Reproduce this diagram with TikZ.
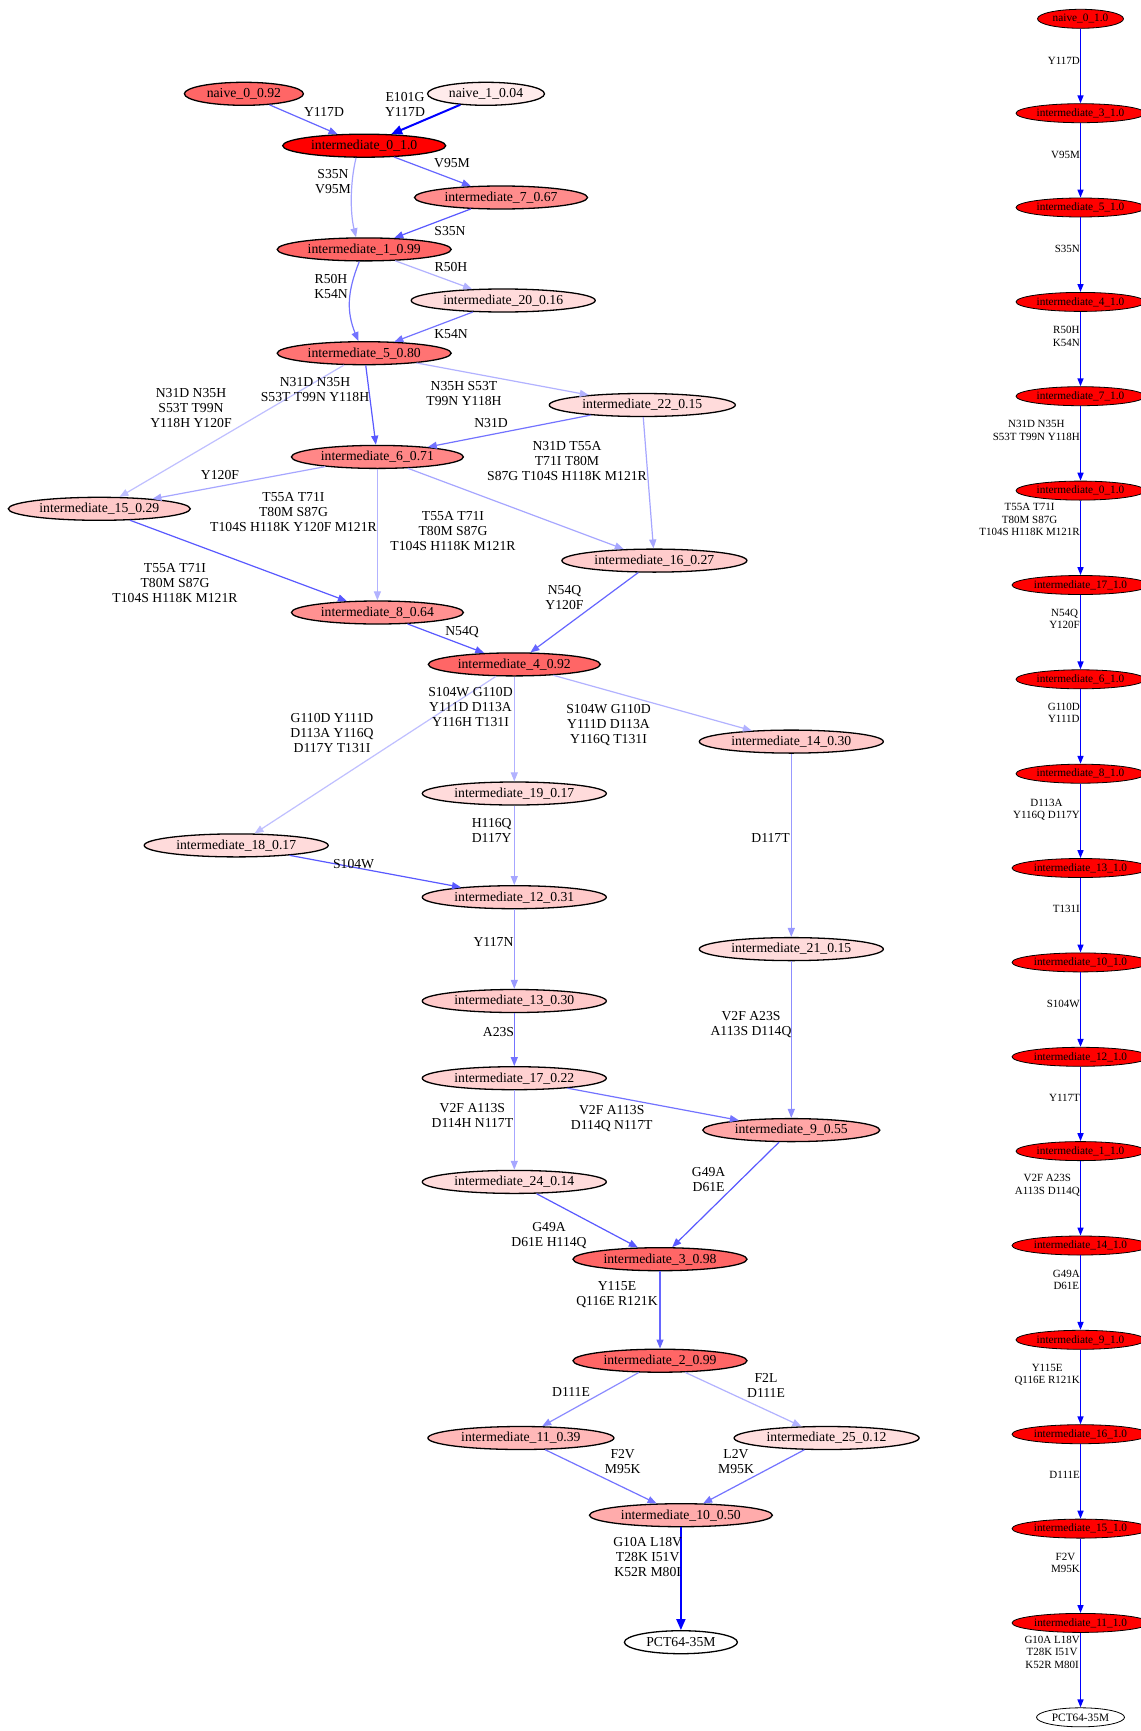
\documentclass[tikz,border=0pt]{standalone}
\usepackage{fontspec}
\setmainfont{Liberation Serif}
\usetikzlibrary{shapes.geometric,arrows.meta}
\begin{document}
\begin{tikzpicture}[x=1pt,y=-1pt,
  mn/.style={ellipse,draw=black,line width=1.3pt,inner sep=0pt,minimum height=23pt,font=\fontsize{13.7}{15}\selectfont},
  rn/.style={ellipse,draw=black,line width=0.8pt,fill=red,inner sep=0pt,minimum height=19pt,font=\fontsize{11.3}{12.5}\selectfont},
  lab/.style={align=center,inner sep=0pt,font=\fontsize{13.7}{15}\selectfont},
  rlab/.style={align=center,inner sep=0pt,anchor=east,font=\fontsize{11}{12.5}\selectfont},
  e/.style={-{Triangle[length=9pt,width=7pt]},line width=1.2pt},
  eb/.style={-{Triangle[length=11pt,width=9pt]},line width=2pt,draw=blue},
  re/.style={-{Triangle[length=8pt,width=6pt]},line width=1.5pt,draw=blue}]
\useasboundingbox (0,0) rectangle (1140,1731);
\fill[white] (0,0) rectangle (1140,1731);
% ---------- main graph nodes
\node[mn,minimum width=119pt,fill=red!60] (n0) at (243.9,93.8) {naive\_0\_0.92};
\node[mn,minimum width=117pt,fill=red!8] (n1) at (486,93.8) {naive\_1\_0.04};
\node[mn,minimum width=163pt,fill=red] (i0) at (364.2,145.7) {intermediate\_0\_1.0};
\node[mn,minimum width=173pt,fill=red!45] (i7) at (501,197.5) {intermediate\_7\_0.67};
\node[mn,minimum width=174pt,fill=red!60] (i1) at (364.2,249.4) {intermediate\_1\_0.99};
\node[mn,minimum width=184pt,fill=red!14] (i20) at (503.2,300.5) {intermediate\_20\_0.16};
\node[mn,minimum width=174pt,fill=red!55] (i5) at (364.2,353.2) {intermediate\_5\_0.80};
\node[mn,minimum width=186pt,fill=red!14] (i22) at (642.3,405) {intermediate\_22\_0.15};
\node[mn,minimum width=172pt,fill=red!47] (i6) at (377.4,456.9) {intermediate\_6\_0.71};
\node[mn,minimum width=182pt,fill=red!21] (i15) at (99.3,508.8) {intermediate\_15\_0.29};
\node[mn,minimum width=185pt,fill=red!20] (i16) at (654.4,560.6) {intermediate\_16\_0.27};
\node[mn,minimum width=172pt,fill=red!43] (i8) at (377.4,612.5) {intermediate\_8\_0.64};
\node[mn,minimum width=172pt,fill=red!60] (i4) at (514.3,664.4) {intermediate\_4\_0.92};
\node[mn,minimum width=184pt,fill=red!21] (i14) at (791.3,741.6) {intermediate\_14\_0.30};
\node[mn,minimum width=184pt,fill=red!14] (i19) at (514.3,793.5) {intermediate\_19\_0.17};
\node[mn,minimum width=184pt,fill=red!14] (i18) at (236.2,845.4) {intermediate\_18\_0.17};
\node[mn,minimum width=184pt,fill=red!21] (i12) at (514.3,897.2) {intermediate\_12\_0.31};
\node[mn,minimum width=184pt,fill=red!14] (i21) at (791.3,949.1) {intermediate\_21\_0.15};
\node[mn,minimum width=184pt,fill=red!21] (i13) at (514.3,1001) {intermediate\_13\_0.30};
\node[mn,minimum width=184pt,fill=red!18] (i17) at (514.3,1078.2) {intermediate\_17\_0.22};
\node[mn,minimum width=177pt,fill=red!35] (i9) at (791.3,1130.1) {intermediate\_9\_0.55};
\node[mn,minimum width=184pt,fill=red!14] (i24) at (514.3,1181.9) {intermediate\_24\_0.14};
\node[mn,minimum width=174pt,fill=red!60] (i3) at (660,1259.2) {intermediate\_3\_0.98};
\node[mn,minimum width=174pt,fill=red!60] (i2) at (660,1360.7) {intermediate\_2\_0.99};
\node[mn,minimum width=186pt,fill=red!28] (i11) at (520.9,1438) {intermediate\_11\_0.39};
\node[mn,minimum width=185pt,fill=red!13] (i25) at (826.6,1438) {intermediate\_25\_0.12};
\node[mn,minimum width=183pt,fill=red!33] (i10) at (680.9,1515.2) {intermediate\_10\_0.50};
\node[mn,minimum width=113pt,fill=white] (pct) at (680.9,1642.2) {PCT64-35M};
% ---------- main graph edges
\draw[e,draw=blue!60] (n0) -- (i0);
\draw[eb] (n1) -- (i0);
\draw[e,draw=blue!60] (i0) -- (i7);
\draw[e,draw=blue!35] (i0.236) .. controls +(-6,25) and +(-6,-25) .. (i1.124);
\draw[e,draw=blue!65] (i7) -- (i1);
\draw[e,draw=blue!30] (i1) -- (i20);
\draw[e,draw=blue!55] (i1.248) .. controls +(-12,30) and +(-12,-30) .. (i5.116);
\draw[e,draw=blue!55] (i20) -- (i5);
\draw[e,draw=blue!30] (i5) -- (i22);
\draw[e,draw=blue!65] (i5) -- (i6);
\draw[e,draw=blue!25] (i5) -- (i15);
\draw[e,draw=blue!55] (i22) -- (i6);
\draw[e,draw=blue!35] (i22) -- (i16);
\draw[e,draw=blue!35] (i6) -- (i15);
\draw[e,draw=blue!30] (i6) -- (i8);
\draw[e,draw=blue!35] (i6) -- (i16);
\draw[e,draw=blue!65] (i15) -- (i8);
\draw[e,draw=blue!60] (i16) -- (i4);
\draw[e,draw=blue!65] (i8) -- (i4);
\draw[e,draw=blue!25] (i4) -- (i18);
\draw[e,draw=blue!30] (i4) -- (i19);
\draw[e,draw=blue!30] (i4) -- (i14);
\draw[e,draw=blue!65] (i18) -- (i12);
\draw[e,draw=blue!35] (i19) -- (i12);
\draw[e,draw=blue!40] (i14) -- (i21);
\draw[e,draw=blue!40] (i12) -- (i13);
\draw[e,draw=blue!55] (i13) -- (i17);
\draw[e,draw=blue!35] (i17) -- (i24);
\draw[e,draw=blue!55] (i17) -- (i9);
\draw[e,draw=blue!45] (i21) -- (i9);
\draw[e,draw=blue!65] (i24) -- (i3);
\draw[e,draw=blue!65] (i9) -- (i3);
\draw[e,draw=blue!60] (i3) -- (i2);
\draw[e,draw=blue!45] (i2) -- (i11);
\draw[e,draw=blue!30] (i2) -- (i25);
\draw[e,draw=blue!55] (i11) -- (i10);
\draw[e,draw=blue!55] (i25) -- (i10);
\draw[eb] (i10) -- (pct);
% ---------- main graph labels
\node[lab] (l1) at (324,111.5) {Y117D};
\node[lab] (l2) at (405,104) {E101G\\Y117D};
\node[lab] (l3) at (452,163.3) {V95M};
\node[lab] (l4) at (333,182) {S35N\\V95M};
\node[lab] (l5) at (450,230.7) {S35N};
\node[lab] (l6) at (451,267.3) {R50H};
\node[lab] (l7) at (331,286.5) {R50H\\K54N};
\node[lab] (l8) at (451,334) {K54N};
\node[lab] (l9) at (191,408) {N31D N35H\\S53T T99N\\Y118H Y120F};
\node[lab] (l10) at (315,390) {N31D N35H\\S53T T99N Y118H};
\node[lab] (l11) at (464,394) {N35H S53T\\T99N Y118H};
\node[lab] (l12) at (491,423) {N31D};
\node[lab] (l13) at (567,460.7) {N31D T55A\\T71I T80M\\S87G T104S H118K M121R};
\node[lab] (l14) at (220,475.5) {Y120F};
\node[lab] (l15) at (293.5,512.3) {T55A T71I\\T80M S87G\\T104S H118K Y120F M121R};
\node[lab] (l16) at (453,530.7) {T55A T71I\\T80M S87G\\T104S H118K M121R};
\node[lab] (l17) at (175,582.7) {T55A T71I\\T80M S87G\\T104S H118K M121R};
\node[lab] (l18) at (564.5,597.5) {N54Q\\Y120F};
\node[lab] (l19) at (462,631.7) {N54Q};
\node[lab] (l20) at (332,733) {G110D Y111D\\D113A Y116Q\\D117Y T131I};
\node[lab] (l21) at (470.5,707) {S104W G110D\\Y111D D113A\\Y116H T131I};
\node[lab] (l22) at (608.5,725.3) {S104W G110D\\Y111D D113A\\Y116Q T131I};
\node[lab] (l23) at (353.6,864) {S104W};
\node[lab] (l24) at (491.7,830.8) {H116Q\\D117Y};
\node[lab] (l25) at (770.5,838.3) {D117T};
\node[lab] (l26) at (493.5,942.3) {Y117N};
\node[lab] (l27) at (498.5,1032.5) {A23S};
\node[lab] (l28) at (472.4,1115.5) {V2F A113S\\D114H N117T};
\node[lab] (l29) at (611.7,1119) {V2F A113S\\D114Q N117T};
\node[lab] (l30) at (751,1025) {V2F A23S\\A113S D114Q};
\node[lab] (l31) at (549,1235.8) {G49A\\D61E H114Q};
\node[lab] (l32) at (708.6,1180) {G49A\\D61E};
\node[lab] (l33) at (617,1294.5) {Y115E\\Q116E R121K};
\node[lab] (l34) at (571,1392.3) {D111E};
\node[lab] (l35) at (766,1385) {F2L\\D111E};
\node[lab] (l36) at (622.7,1461.8) {F2V\\M95K};
\node[lab] (l37) at (736,1461.8) {L2V\\M95K};
\node[lab] (l38) at (647.7,1557.3) {G10A L18V\\T28K I51V\\K52R M80I};
% ---------- right column
\node[rn,minimum width=86pt] (r0) at (1080.5,18.8) {naive\_0\_1.0};
\node[rn,minimum width=129pt] (r1) at (1080.5,113.2) {intermediate\_3\_1.0};
\node[rn,minimum width=129pt] (r2) at (1080.5,207.5) {intermediate\_5\_1.0};
\node[rn,minimum width=129pt] (r3) at (1080.5,301.9) {intermediate\_4\_1.0};
\node[rn,minimum width=129pt] (r4) at (1080.5,396.2) {intermediate\_7\_1.0};
\node[rn,minimum width=129pt] (r5) at (1080.5,490.6) {intermediate\_0\_1.0};
\node[rn,minimum width=137pt] (r6) at (1080.5,585) {intermediate\_17\_1.0};
\node[rn,minimum width=129pt] (r7) at (1080.5,679.3) {intermediate\_6\_1.0};
\node[rn,minimum width=129pt] (r8) at (1080.5,773.7) {intermediate\_8\_1.0};
\node[rn,minimum width=137pt] (r9) at (1080.5,868) {intermediate\_13\_1.0};
\node[rn,minimum width=137pt] (r10) at (1080.5,962.4) {intermediate\_10\_1.0};
\node[rn,minimum width=137pt] (r11) at (1080.5,1056.8) {intermediate\_12\_1.0};
\node[rn,minimum width=129pt] (r12) at (1080.5,1151.1) {intermediate\_1\_1.0};
\node[rn,minimum width=137pt] (r13) at (1080.5,1245.5) {intermediate\_14\_1.0};
\node[rn,minimum width=129pt] (r14) at (1080.5,1339.8) {intermediate\_9\_1.0};
\node[rn,minimum width=137pt] (r15) at (1080.5,1434.2) {intermediate\_16\_1.0};
\node[rn,minimum width=137pt] (r16) at (1080.5,1528.6) {intermediate\_15\_1.0};
\node[rn,minimum width=137pt] (r17) at (1080.5,1622.9) {intermediate\_11\_1.0};
\node[rn,minimum width=88pt,fill=white] (r18) at (1080.5,1717.3) {PCT64-35M};
\foreach \a/\b in {r0/r1,r1/r2,r2/r3,r3/r4,r4/r5,r5/r6,r6/r7,r7/r8,r8/r9,r9/r10,r10/r11,r11/r12,r12/r13,r13/r14,r14/r15,r15/r16,r16/r17,r17/r18}
  \draw[re] (\a) -- (\b);
\node[rlab] (q1) at (1080,60.7) {Y117D};
\node[rlab] (q2) at (1080,154.5) {V95M};
\node[rlab] (q3) at (1080,249.4) {S35N};
\node[rlab] (q4) at (1080,336.6) {R50H\\K54N};
\node[rlab] (q5) at (1080,430.4) {N31D N35H\\S53T T99N Y118H};
\node[rlab] (q6) at (1080,519.8) {T55A T71I\\T80M S87G\\T104S H118K M121R};
\node[rlab] (q7) at (1080,619) {N54Q\\Y120F};
\node[rlab] (q8) at (1080,713) {G110D\\Y111D};
\node[rlab] (q9) at (1080,809.5) {D113A\\Y116Q D117Y};
\node[rlab] (q10) at (1080,909.4) {T131I};
\node[rlab] (q11) at (1080,1004.3) {S104W};
\node[rlab] (q12) at (1080,1098) {Y117T};
\node[rlab] (q13) at (1080,1185.3) {V2F A23S\\A113S D114Q};
\node[rlab] (q14) at (1080,1280) {G49A\\D61E};
\node[rlab] (q15) at (1080,1374.6) {Y115E\\Q116E R121K};
\node[rlab] (q16) at (1080,1474.4) {D111E};
\node[rlab] (q17) at (1080,1562.7) {F2V\\M95K};
\node[rlab] (q18) at (1080,1652) {G10A L18V\\T28K I51V\\K52R M80I};
\end{tikzpicture}
\end{document}
